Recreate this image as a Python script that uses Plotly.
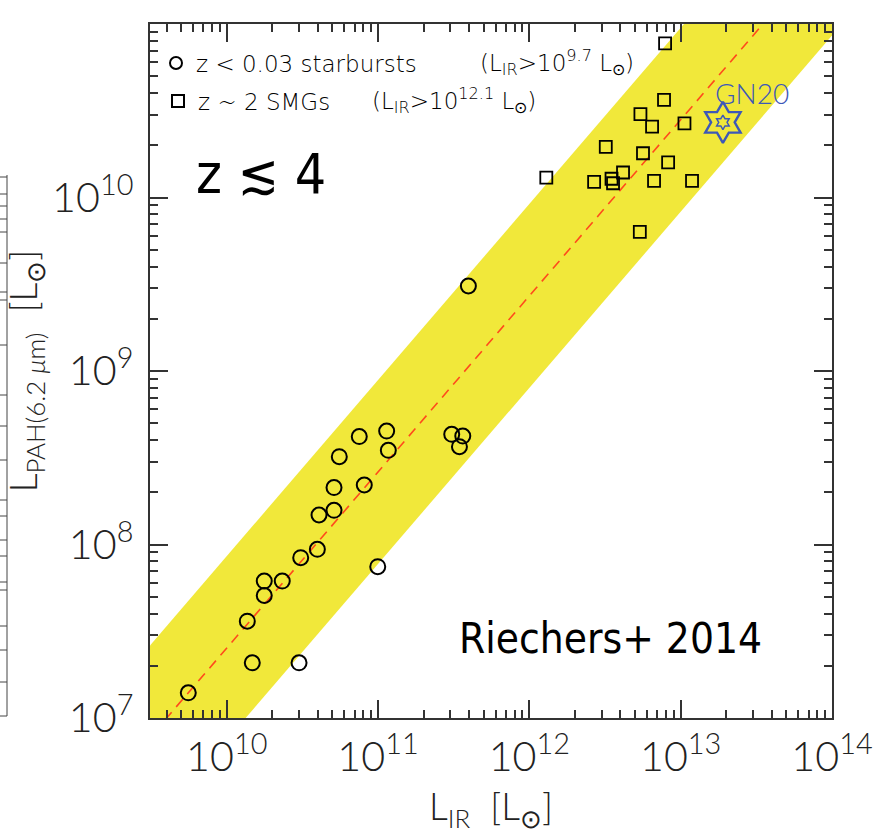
import numpy as np
import plotly.graph_objects as go

# ---- data (log10 of luminosities in solar units) ----
starburst_log_lir = [9.746, 10.136, 10.169, 10.248, 10.248, 10.367, 10.478, 10.489, 10.599, 10.610,
                     10.709, 10.709, 10.909, 10.998, 10.744, 10.876, 11.057, 11.068, 11.487, 11.560,
                     11.538, 11.597]
starburst_log_pah = [7.145, 7.558, 7.318, 7.789, 7.706, 7.789, 7.318, 7.924, 7.972, 8.170,
                     8.197, 8.328, 8.343, 7.872, 8.506, 8.622, 8.654, 8.543, 8.635, 8.625,
                     8.564, 9.490]

smg_log_lir = [12.897, 12.890, 12.734, 12.811, 13.025, 12.505, 12.751, 12.917, 12.112, 12.619,
               12.428, 12.543, 12.553, 12.824, 13.075, 12.730]
smg_log_pah = [10.888, 10.563, 10.480, 10.409, 10.427, 10.292, 10.255, 10.202, 10.115, 10.144,
               10.090, 10.108, 10.082, 10.096, 10.096, 9.802]

gn20_log_lir = [13.279]
gn20_log_pah = [10.433]

# linear relation log L_PAH = slope * log L_IR + intercept, with a +/- band (dex)
fit_slope = 1.015
fit_intercept = -2.747
band_halfwidth = 0.53
fit_span = [9.3, 14.2]

x_range = [9.493, 14.0]
y_range = [7.0, 11.0]

# ---- figure geometry ----
W, H = 886, 834
ML, MR, MT, MB = 150, 54, 24, 116
PW, PH = W - ML - MR, H - MT - MB

def px_x(p):
    return (p - ML) / PW

def px_y(p):
    return (H - MB - p) / PH

AX = "#333333"
YELLOW = "#f1e83a"
BLUE = "#3d58b8"
THIN = "Lato"
fig = go.Figure()

# shaded band around the relation
xs = np.array(fit_span)
upper = fit_slope * xs + fit_intercept + band_halfwidth
lower = fit_slope * xs + fit_intercept - band_halfwidth
band_x = np.concatenate([xs, xs[::-1]])
band_y = np.concatenate([upper, lower[::-1]])
fig.add_trace(go.Scatter(x=10 ** band_x, y=10 ** band_y, fill="toself", fillcolor=YELLOW,
                         line=dict(width=0), mode="lines", showlegend=False, hoverinfo="skip"))

# relation itself
fig.add_trace(go.Scatter(x=10 ** xs, y=10 ** (fit_slope * xs + fit_intercept), mode="lines",
                         line=dict(color="#ff4a1c", width=1.6, dash="10px,7px"),
                         showlegend=False, hoverinfo="skip"))

# local starbursts
fig.add_trace(go.Scatter(x=10 ** np.array(starburst_log_lir), y=10 ** np.array(starburst_log_pah),
                         mode="markers", name="z < 0.03 starbursts",
                         marker=dict(symbol="circle-open", size=15, color="black", line=dict(width=2)),
                         legend="legend"))

# high-z submillimetre galaxies
fig.add_trace(go.Scatter(x=10 ** np.array(smg_log_lir), y=10 ** np.array(smg_log_pah),
                         mode="markers", name="z ~ 2 SMGs",
                         marker=dict(symbol="square-open", size=12, color="black", line=dict(width=1.8)),
                         legend="legend2"))

# GN20
fig.add_trace(go.Scatter(x=10 ** np.array(gn20_log_lir), y=10 ** np.array(gn20_log_pah),
                         mode="markers", showlegend=False,
                         marker=dict(symbol="hexagram-open", size=31, color=BLUE, line=dict(width=2.4))))
fig.add_trace(go.Scatter(x=10 ** np.array(gn20_log_lir), y=10 ** np.array(gn20_log_pah),
                         mode="markers", showlegend=False,
                         marker=dict(symbol="hexagram-open", size=11, color=BLUE, line=dict(width=1.5))))
fig.add_annotation(x=gn20_log_lir[0], y=gn20_log_pah[0], text="GN20",
                   showarrow=False, xanchor="left", yanchor="bottom", xshift=-10, yshift=10,
                   font=dict(family=THIN, size=28, color=BLUE, weight=300))

axis_common = dict(
    type="log", showline=True, linecolor=AX, linewidth=2, mirror="allticks",
    ticks="inside", ticklen=18, tickwidth=2, tickcolor=AX, showgrid=False, zeroline=False,
    dtick=1, exponentformat="power", showexponent="all",
    tickfont=dict(family=THIN, size=33, color="#222", weight=300),
    minor=dict(ticks="inside", ticklen=8, tickwidth=2, tickcolor=AX, dtick="D1", showgrid=False),
)

fig.update_xaxes(range=x_range, **axis_common, ticklabelstandoff=3,
                 title=dict(text="L<sub>IR</sub>  [L<sub>⊙</sub>]",
                            font=dict(family=THIN, size=37, color="#222", weight=300), standoff=20))
fig.update_yaxes(range=y_range, **axis_common, ticklabelstandoff=8,
                 title=dict(text="L<sub>PAH(6.2 <i>μ</i>m)</sub>  [L<sub>⊙</sub>]",
                            font=dict(family=THIN, size=37, color="#222", weight=300), standoff=6))

legend_font = dict(family="DejaVu Sans", size=23, color="black", weight=200)
fig.update_layout(
    width=W, height=H, margin=dict(l=ML, r=MR, t=MT, b=MB, autoexpand=False),
    paper_bgcolor="white", plot_bgcolor="white",
    legend=dict(x=px_x(156), y=px_y(63), xanchor="left", yanchor="middle", bgcolor="rgba(0,0,0,0)",
                font=legend_font, itemsizing="constant", itemwidth=30),
    legend2=dict(x=px_x(158), y=px_y(101), xanchor="left", yanchor="middle", bgcolor="rgba(0,0,0,0)",
                 font=legend_font, itemsizing="constant", itemwidth=30),
)

# parenthetical luminosity cuts next to the legend entries
fig.add_annotation(xref="paper", yref="paper", x=px_x(478), y=px_y(63), xanchor="left", yanchor="middle",
                   text="(L<sub>IR</sub>>10<sup>9.7</sup> L<sub>⊙</sub>)", showarrow=False, font=legend_font)
fig.add_annotation(xref="paper", yref="paper", x=px_x(370), y=px_y(101), xanchor="left", yanchor="middle",
                   text="(L<sub>IR</sub>>10<sup>12.1</sup> L<sub>⊙</sub>)", showarrow=False, font=legend_font)

big_font = "DejaVu Sans Condensed, DejaVu Sans"
fig.add_annotation(xref="paper", yref="paper", x=px_x(194), y=px_y(174), xanchor="left", yanchor="middle",
                   text="z ≲ 4", showarrow=False, font=dict(family=big_font, size=55, color="black"))
fig.add_annotation(xref="paper", yref="paper", x=px_x(457), y=px_y(638), xanchor="left", yanchor="middle",
                   text="Riechers+ 2014", showarrow=False, font=dict(family=big_font, size=42, color="black"))

# edge of the neighbouring panel on the left
frag_x = px_x(7)
fig.add_shape(type="line", xref="paper", yref="paper", x0=frag_x, x1=frag_x, y0=px_y(175), y1=px_y(716),
              line=dict(color="#444", width=1))
for ty in [177, 194, 206, 219, 232, 263, 292, 300, 345, 395, 426, 460, 500, 516, 540, 556, 582, 590, 626, 650, 682, 716]:
    fig.add_shape(type="line", xref="paper", yref="paper", x0=px_x(0), x1=frag_x, y0=px_y(ty), y1=px_y(ty),
                  line=dict(color="#444", width=1))

fig.write_html("out.html")
